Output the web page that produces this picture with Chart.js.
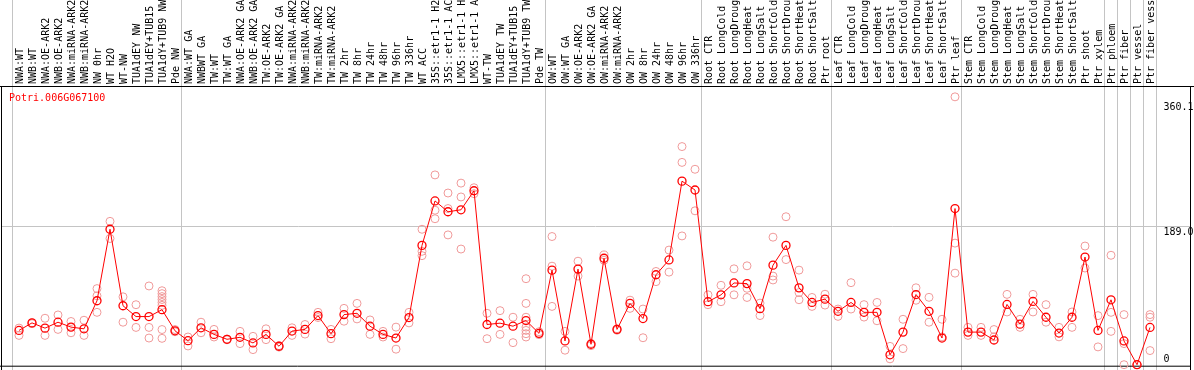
<!DOCTYPE html>
<html>
<head>
<meta charset="utf-8">
<script src="https://cdn.jsdelivr.net/npm/chart.js@4/dist/chart.umd.min.js"></script>
<style>
    html, body { margin: 0; padding: 0; background: #fff; }
    #chart { display: block; }
</style>
</head>
<body>
<canvas id="chart" width="1194" height="370"></canvas>
<script>
// ===== 데이터 =====
var geneName = 'Potri.006G067100';

var labels = [
    'NWA:WT', 'NWB:WT', 'NWA:OE-ARK2', 'NWB:OE-ARK2', 'NWA:miRNA-ARK2', 'NWB:miRNA-ARK2', 'NW 0hr', 'WT H2O', 'WT-NW',
    'TUA1dEY NW', 'TUA1dEY+TUB15', 'TUA1dY+TUB9 NW', 'Pde NW',
    'NWA:WT GA', 'NWBWT GA', 'TW:WT', 'TW:WT GA', 'NWA:OE-ARK2 GA', 'NWB:OE-ARK2 GA', 'TW:OE-ARK2', 'TW:OE-ARK2 GA',
    'NWA:miRNA-ARK2', 'NWB:miRNA-ARK2', 'TW:miRNA-ARK2', 'TW:miRNA-ARK2', 'TW 2hr', 'TW 8hr', 'TW 24hr', 'TW 48hr',
    'TW 96hr', 'TW 336hr', 'WT ACC', '35S::etr1-1 H2', '35S::etr1-1 AC', 'LMX5::etr1-1 H', 'LMX5::etr1-1 A', 'WT-TW',
    'TUA1dEY TW', 'TUA1dEY+TUB15', 'TUA1dY+TUB9 TW', 'Pde TW',
    'OW:WT', 'OW:WT GA', 'OW:OE-ARK2', 'OW:OE-ARK2 GA', 'OW:miRNA-ARK2', 'OW:miRNA-ARK2', 'OW 2hr', 'OW 8hr',
    'OW 24hr', 'OW 48hr', 'OW 96hr', 'OW 336hr',
    'Root CTR', 'Root LongCold', 'Root LongDroug', 'Root LongHeat', 'Root LongSalt', 'Root ShortCold', 'Root ShortDrou',
    'Root ShortHeat', 'Root ShortSalt', 'Ptr root',
    'Leaf CTR', 'Leaf LongCold', 'Leaf LongDroug', 'Leaf LongHeat', 'Leaf LongSalt', 'Leaf ShortCold', 'Leaf ShortDrou',
    'Leaf ShortHeat', 'Leaf ShortSalt', 'Ptr leaf',
    'Stem CTR', 'Stem LongCold', 'Stem LongDroug', 'Stem LongHeat', 'Stem LongSalt', 'Stem ShortCold', 'Stem ShortDrou',
    'Stem ShortHeat', 'Stem ShortSalt', 'Ptr shoot', 'Ptr xylem',
    'Ptr phloem', 'Ptr fiber', 'Ptr vessel', 'Ptr fiber vess'
];

// 평균값 (빨간 선)
var means = [
    46.8, 57.1, 49.9, 58, 51.3, 49, 87.3, 184.9, 80.5, 65.7, 65.7, 75.1, 46.3,
    32.8, 50.4, 41.4, 34.7, 37.4, 29.7, 41.4, 25.2, 45.9, 48.2, 67.1, 42.3, 68.4, 70.2, 52.6, 41.4, 36.4, 64.4,
    162.9, 223.6, 208.8, 211.5, 237.5, 54.9, 56.7, 52.6, 60.3, 42.8,
    129.1, 32.4, 130.5, 27.9, 145.3, 48.2, 83.7, 63, 122.8, 143, 250.6, 238.5,
    86, 95.4, 111.6, 110.7, 76.5, 135.9, 162.9, 104.9, 85, 89.5,
    72.9, 85, 71.5, 71.5, 13.5, 44.5, 95.8, 72.9, 36.4, 213.2,
    44.5, 44.5, 33.7, 82.3, 55.3, 86.4, 64.8, 43.2, 64.8, 147, 46.8,
    88.6, 32.4, 0, 50.9
];

// 반복 측정값 (연한 원)
var replicates = [
    [50, 40], [57, 56], [63.4, 40], [67.9, 48.2], [59, 43.6], [60.7, 40], [103.9, 94, 71.5], [195.7, 172.3],
    [92.7, 58], [81.9, 50.9], [107.5, 50.9, 36.4], [101, 97, 93, 89, 85, 81, 48, 36], [48, 45],
    [37.8, 25.6], [58, 43.6], [48.2, 37.8], [35, 34], [45.5, 28.8], [38.7, 20.6], [49, 34.2], [26, 24],
    [50.4, 40], [54.9, 41.8], [71.5, 64.4], [48.2, 35.5], [76.9, 59.4], [83.7, 62.5], [61.1, 41.4], [45.5, 37.8],
    [51.3, 21.2], [71.5, 57.1], [184.9, 154.8, 148.9], [259.1, 210.9, 199.3], [234.4, 213.2, 177.2],
    [247.9, 229, 157.9], [241.6, 233.5], [70.2, 35.5], [73.8, 41.4], [64.8, 30.1],
    [117.4, 83.7, 64.8, 51.3, 46.8, 42.3, 37.8], [45, 41],
    [175, 134.5, 79.6], [45.5, 19.8], [141.3, 121], [29, 26], [149.8, 142.6], [47, 49], [88.1, 76.9], [76, 36.8],
    [127.3, 113.4], [156.5, 126.4], [297.8, 276.2, 175.8], [266.8, 210.1],
    [95.4, 81.9], [108.4, 86], [130.9, 95.4], [135, 104.3, 91.8], [84.1, 67.1], [174.1, 121, 115.7], [202, 143.5],
    [129.1, 98.5, 88.7], [91.8, 79.6], [96.2, 81.4],
    [76, 66], [112, 76], [82, 65], [85, 60], [25, 8], [62, 22], [105, 88], [92, 58], [62, 38], [365.7, 166, 125],
    [51, 40], [51, 40], [48, 38], [96, 72], [62, 51], [96, 72], [82, 58], [51, 38], [72, 51], [162, 132], [67, 24.3],
    [149.4, 71.5, 45.5], [68.4, 28.8, 0], [0, 0], [68.4, 64.8, 19.3]
];

// 그룹 시작 인덱스 (회색 세로 구분선)
var groupStarts = [0, 13, 41, 53, 63, 73, 84, 85, 86, 87, 88];

// 오른쪽 축 표시값
var axisMarks = [360.1, 189.0, 0];
var gridValue = 189.0;

// ===== 유틸 =====
var FONT = '10px "DejaVu Sans Mono", monospace';

// 반복값을 k번째 열 단위 데이터셋으로 나눔 (없으면 null)
function replicateDatasets(reps) {
    var maxLen = 0;
    reps.forEach(function (vals) { if (vals.length > maxLen) maxLen = vals.length; });
    var sets = [];
    for (var k = 0; k < maxLen; k++) {
        sets.push({
            data: reps.map(function (vals) { return vals.length > k ? vals[k] : null; }),
            showLine: false,
            pointRadius: 4,
            pointBorderWidth: 1,
            pointBorderColor: '#f09a9a',
            pointBackgroundColor: 'rgba(0,0,0,0)',
            clip: false
        });
    }
    return sets;
}

// ===== 프레임 / 구분선 플러그인 =====
var framePlugin = {
    id: 'frame',
    beforeDatasetsDraw: function (chart) {
        var ctx = chart.ctx;
        var xs = chart.scales.x;
        var ys = chart.scales.y;
        var W = chart.width, H = chart.height;
        var top = chart.chartArea.top;
        var bottom = chart.chartArea.bottom;
        var rightEdge = W - 4;

        ctx.save();
        ctx.lineWidth = 1;

        // 그룹 구분선
        ctx.strokeStyle = '#c4c4c4';
        var half = (xs.getPixelForValue(1) - xs.getPixelForValue(0)) / 2;
        groupStarts.forEach(function (idx) {
            var px = Math.round(xs.getPixelForValue(idx) - half - 1) + 0.5;
            ctx.beginPath();
            ctx.moveTo(px, 0);
            ctx.lineTo(px, H);
            ctx.stroke();
        });

        // 189.0 가로선
        var gy = Math.round(ys.getPixelForValue(gridValue)) + 0.5;
        ctx.beginPath();
        ctx.moveTo(1, gy);
        ctx.lineTo(rightEdge, gy);
        ctx.stroke();

        // 검은 테두리
        ctx.strokeStyle = '#000';
        ctx.beginPath();
        ctx.moveTo(0, top + 0.5);
        ctx.lineTo(W, top + 0.5);
        ctx.moveTo(1.5, top);
        ctx.lineTo(1.5, H);
        ctx.moveTo(rightEdge + 0.5, top);
        ctx.lineTo(rightEdge + 0.5, H);
        ctx.moveTo(0, bottom + 1.5);
        ctx.lineTo(rightEdge, bottom + 1.5);
        ctx.stroke();
        ctx.restore();
    },
    afterDraw: function (chart) {
        var ctx = chart.ctx;
        var ys = chart.scales.y;
        var top = chart.chartArea.top;
        var right = chart.chartArea.right;

        ctx.save();
        ctx.font = FONT;
        ctx.textAlign = 'left';

        // 유전자 이름
        ctx.fillStyle = '#ff0000';
        ctx.textBaseline = 'middle';
        ctx.fillText(geneName, 9, top + 12);

        // 오른쪽 값 라벨
        ctx.fillStyle = '#000';
        axisMarks.forEach(function (v) {
            var py = ys.getPixelForValue(v);
            if (v === 0) {
                ctx.textBaseline = 'bottom';
                ctx.fillText('0', right + 7, py);
            } else {
                ctx.textBaseline = 'top';
                ctx.fillText(v.toFixed(1), right + 7, py + 1);
            }
        });
        ctx.restore();
    }
};

// ===== 차트 =====
var chart = new Chart(document.getElementById('chart'), {
    type: 'line',
    data: {
        labels: labels,
        datasets: [
            {
                data: means,
                borderColor: '#ff0000',
                borderWidth: 1,
                pointRadius: 4,
                pointBorderWidth: 1.3,
                pointBorderColor: '#ff0000',
                pointBackgroundColor: 'rgba(0,0,0,0)',
                tension: 0,
                clip: false
            }
        ].concat(replicateDatasets(replicates))
    },
    options: {
        responsive: false,
        animation: false,
        layout: { padding: { left: 12.5, right: 37.5, top: 0, bottom: 2 } },
        plugins: { legend: { display: false }, tooltip: { enabled: false } },
        scales: {
            x: {
                type: 'category',
                position: 'top',
                offset: true,
                grid: { display: false, drawTicks: false },
                border: { display: false },
                ticks: {
                    autoSkip: false,
                    maxRotation: 90,
                    minRotation: 90,
                    padding: 2,
                    labelOffset: 13,
                    color: '#000',
                    font: { family: '"DejaVu Sans Mono", monospace', size: 10 }
                },
                afterFit: function (scale) { scale.height = 86; }
            },
            y: {
                display: false,
                min: 0,
                max: 380.5
            }
        }
    },
    plugins: [framePlugin]
});
</script>
</body>
</html>
